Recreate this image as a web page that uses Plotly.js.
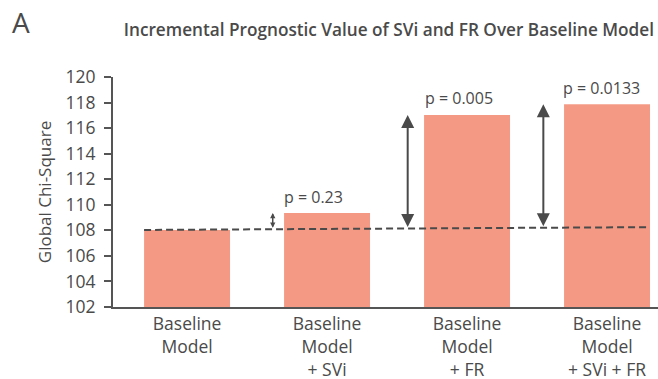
<!DOCTYPE html>
<html>
<head>
<meta charset="utf-8">
<script src="https://cdn.plot.ly/plotly-3.0.1.min.js"></script>
<style>html,body{margin:0;padding:0;background:#fff;}#chart{width:658px;height:379px;}</style>
</head>
<body>
<div id="chart"></div>
<script>
// ---- data ----
const categories = ["Baseline<br>Model", "Baseline<br>Model<br>+ SVi", "Baseline<br>Model<br>+ FR", "Baseline<br>Model<br>+ SVi + FR"];
const chiSquare = [108.03, 109.36, 117.03, 117.87];
const pValues = ["", "p = 0.23", "p = 0.005", "p = 0.0133"];
const baselineLine = [108.03, 108.25];   // dashed reference at left / right end
const yTicks = [102, 104, 106, 108, 110, 112, 114, 116, 118, 120];

// ---- style / position constants ----
const ink = "#4a4a4a";
const font = "Open Sans, sans-serif";
const barColor = "#f49a84";
const xIdx = categories.map((_, i) => i);
const lineX0 = -0.307, lineX1 = 3.307;
const arrowOffset = [0, -0.388, -0.424, -0.455];
const arrowSizes = [0, 0.7, 1.3, 1.3];
const arrowWidths = [0, 1.5, 2, 2];
const labelOffset = [0, -0.10, -0.054, -0.043];
const labelLift = [0, 1.27, 1.36, 1.30];

function baseAt(x) {
  return baselineLine[0] + (baselineLine[1] - baselineLine[0]) * (x - lineX0) / (lineX1 - lineX0);
}

const annotations = [];
for (let i = 1; i < chiSquare.length; i++) {
  const ax = xIdx[i] + arrowOffset[i];
  annotations.push({
    x: ax, y: chiSquare[i], xref: "x", yref: "y",
    ax: ax, ay: baseAt(ax), axref: "x", ayref: "y",
    text: "", showarrow: true, arrowside: "end+start",
    arrowhead: 2, arrowsize: arrowSizes[i], arrowwidth: arrowWidths[i], arrowcolor: ink, standoff: 0, startstandoff: 0
  });
  annotations.push({
    x: xIdx[i] + labelOffset[i], y: chiSquare[i] + labelLift[i], xref: "x", yref: "y",
    text: pValues[i], showarrow: false, xanchor: "center", yanchor: "middle",
    font: {family: font, size: 16, color: ink}
  });
}
annotations.push({
  x: -0.189, y: 1.33, xref: "paper", yref: "paper", text: "A", showarrow: false,
  xanchor: "left", yanchor: "top", font: {family: font, size: 28, color: ink}
});

const trace = {
  type: "bar", x: xIdx, y: chiSquare,
  marker: {color: barColor, line: {width: 0}},
  hoverinfo: "skip"
};

const layout = {
  width: 658, height: 379,
  margin: {l: 113, r: 0, t: 77, b: 72, pad: 0},
  paper_bgcolor: "#fff", plot_bgcolor: "#fff",
  bargap: 0.386,
  showlegend: false,
  title: {
    text: "Incremental Prognostic Value of SVi and FR Over Baseline Model",
    font: {family: font, size: 17.2, color: ink, weight: 600},
    x: 0.591, xref: "container", xanchor: "center",
    y: 0.921, yref: "container", yanchor: "middle"
  },
  xaxis: {
    range: [-0.529, 3.364],
    tickvals: xIdx, ticktext: categories,
    ticks: "", showgrid: false, zeroline: false,
    showline: true, linecolor: "#555", linewidth: 2,
    tickfont: {family: font, size: 17.5, color: ink},
    fixedrange: true
  },
  yaxis: {
    range: [102, 120],
    tickvals: yTicks,
    ticks: "outside", ticklen: 7, tickwidth: 2, tickcolor: "#555",
    ticklabelstandoff: 5,
    showgrid: false, zeroline: false,
    showline: true, linecolor: "#555", linewidth: 2,
    tickfont: {family: font, size: 17.5, color: ink},
    title: {text: "Global Chi-Square", font: {family: font, size: 17, color: ink}, standoff: 10},
    fixedrange: true
  },
  shapes: [{
    type: "line", xref: "x", yref: "y",
    x0: lineX0, x1: lineX1, y0: baselineLine[0], y1: baselineLine[1],
    line: {color: ink, width: 2, dash: "7px,4px"}
  }],
  annotations: annotations
};

Plotly.newPlot("chart", [trace], layout, {displayModeBar: false, staticPlot: true});
</script>
</body>
</html>
